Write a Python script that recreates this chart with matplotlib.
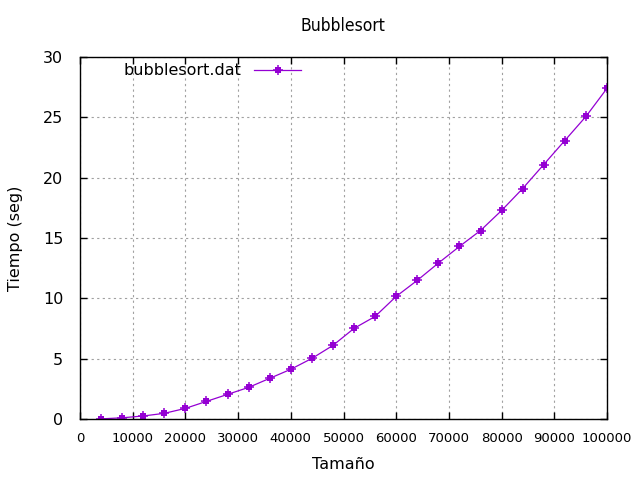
import matplotlib
matplotlib.use("Agg")
import matplotlib.pyplot as plt
from matplotlib.lines import Line2D

sizes = [4000, 8000, 12000, 16000, 20000, 24000, 28000, 32000, 36000, 40000,
         44000, 48000, 52000, 56000, 60000, 64000, 68000, 72000, 76000, 80000,
         84000, 88000, 92000, 96000, 100000]
times = [0.01, 0.1, 0.25, 0.47, 0.88, 1.46, 2.04, 2.62, 3.37, 4.12,
         5.02, 6.1, 7.51, 8.5, 10.16, 11.49, 12.92, 14.3, 15.62, 17.28,
         19.1, 21.09, 23.08, 25.07, 27.4]
xticks = list(range(0, 100001, 10000))
yticks = list(range(0, 31, 5))

color = "#9400D3"

fig = plt.figure(figsize=(6.4, 4.8), dpi=100)
ax = fig.add_axes([80/640, 1-419/480, (607-80)/640, (419-57)/480])

ax.plot(sizes, times, color=color, lw=0.9, marker="s", ms=4, mew=0)
ax.plot(sizes, times, color=color, lw=0, marker="+", ms=6.5, mew=1.1)

ax.set_xlim(0, 100000)
ax.set_ylim(0, 30)
ax.set_xticks(xticks)
ax.set_xticklabels([str(v) for v in xticks], fontsize=9.5)
ax.set_yticks(yticks)
ax.set_yticklabels([str(v) for v in yticks], fontsize=11.5)
ax.tick_params(direction="in", top=True, right=True, length=5, width=1)
ax.tick_params(axis="x", pad=9)
ax.tick_params(axis="y", pad=12)
ax.grid(True, color="#a0a0a0", linestyle=(0, (2, 3)), lw=0.8)
for s in ax.spines.values():
    s.set_linewidth(1.0)

ax.set_xlabel("Tamaño", fontsize=11.5, labelpad=9)
ax.set_ylabel("Tiempo (seg)", fontsize=11.5)
ax.yaxis.set_label_coords(-0.108, 0.5)
fig.text(343/640, 1-26/480, "Bubblesort", ha="center", va="center",
         fontsize=12.5, family="DejaVu Sans", fontstretch="condensed")

h1 = Line2D([], [], color=color, lw=0.9, marker="s", ms=4, mew=0)
h2 = Line2D([], [], color=color, lw=0, marker="+", ms=6.5, mew=1.1)
leg = ax.legend([(h1, h2)], ["bubblesort.dat"], loc="upper left",
                bbox_to_anchor=(0.055, 1.022), frameon=False, markerfirst=False,
                handlelength=2.95, fontsize=11.5, handletextpad=0.8)

fig.savefig("out.png", dpi=100)
